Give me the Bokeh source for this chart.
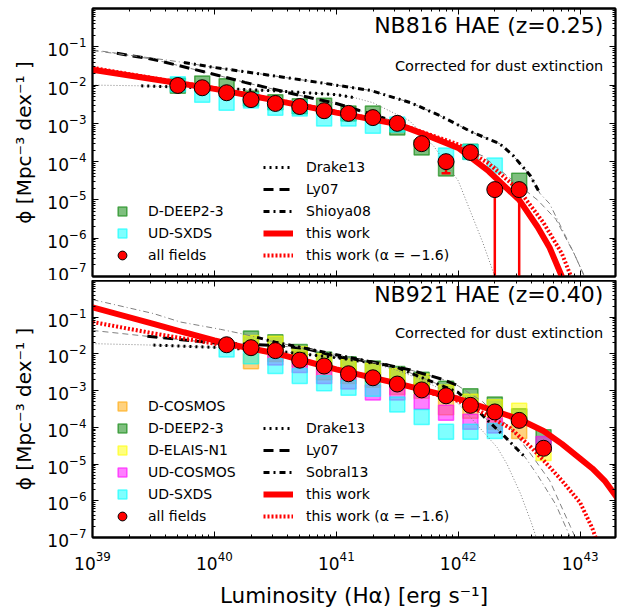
import math
from bokeh.plotting import figure
from bokeh.models import (LogAxis, FixedTicker, Legend, LegendItem, Label, Range1d)
from bokeh.layouts import column
from bokeh.embed import file_html
from bokeh.resources import INLINE

nan = float("nan")

# ---------------- data (log10 values) ----------------
x_tick_exps = [39, 40, 41, 42, 43]
y_tick_exps = [-7, -6, -5, -4, -3, -2, -1]

# NB816 (z=0.25) panel
L_top = [39.7, 39.9, 40.1, 40.3, 40.5, 40.7, 40.9, 41.1, 41.3, 41.5, 41.7, 41.9, 42.1, 42.3, 42.5]
all_top = [-2.01, -2.07, -2.20, -2.38, -2.48, -2.56, -2.67, -2.74, -2.85, -3.00, -3.53, -4.00, -3.76, -4.73, -4.73]
all_top_lo = [-2.05, -2.11, -2.24, -2.42, -2.52, -2.60, -2.71, -2.79, -2.90, -3.06, -3.62, -4.30, -3.85, -9.0, -9.0]
all_top_hi = [-1.97, -2.03, -2.16, -2.34, -2.44, -2.52, -2.63, -2.70, -2.80, -2.95, -3.45, -3.85, -3.68, -4.55, -4.55]
deep2_top = [-2.02, -1.96, -2.03, -2.35, -2.45, -2.55, -2.54, -2.74, -2.74, -3.11, -3.63, -4.18, -3.74, nan, -4.50]
sxds_top = [-1.98, -2.25, -2.46, -2.40, -2.59, -2.61, -2.87, -2.87, -3.06, -3.03, nan, -3.84, -3.75, -4.10, nan]

tw_top_x = [39.0, 39.5, 40.0, 40.5, 41.0, 41.5, 41.75, 42.0, 42.25, 42.5, 42.65, 42.75, 42.85, 42.9]
tw_top_y = [-1.60, -1.85, -2.10, -2.40, -2.72, -3.02, -3.32, -3.64, -4.25, -5.00, -5.70, -6.25, -7.00, -7.40]
twa_top_x = [39.0, 39.5, 40.0, 40.5, 41.0, 41.5, 42.0, 42.25, 42.5, 42.7, 42.85, 42.95]
twa_top_y = [-1.55, -1.82, -2.08, -2.38, -2.70, -3.00, -3.55, -4.05, -4.75, -5.60, -6.40, -7.20]

drake_top_x = [39.0, 39.4, 39.7, 40.0, 40.5, 41.0, 41.15, 41.3, 41.6, 41.8, 42.0, 42.1, 42.2, 42.3]
drake_top_y = [-2.00, -2.02, -2.05, -2.08, -2.15, -2.25, -2.33, -2.46, -2.93, -3.60, -4.50, -5.30, -6.10, -7.00]
drake_top_thick = (39.4, 41.15)
ly_top_x = [39.0, 39.2, 39.5, 39.95, 40.25, 40.7, 41.0, 41.4, 41.65, 41.9, 42.2, 42.45, 42.65, 42.8, 42.95, 43.05]
ly_top_y = [-1.08, -1.17, -1.33, -1.68, -1.93, -2.27, -2.48, -2.87, -3.14, -3.45, -3.85, -4.50, -5.00, -5.50, -6.40, -7.10]
ly_top_thick = (39.2, 41.4)
sh_top_x = [39.0, 39.5, 39.75, 40.0, 40.4, 40.75, 41.28, 41.61, 41.85, 42.12, 42.34, 42.45, 42.59, 42.67, 42.75, 42.85, 42.95, 43.05]
sh_top_y = [-1.10, -1.30, -1.41, -1.54, -1.72, -1.88, -2.14, -2.46, -2.80, -3.24, -3.53, -3.84, -4.36, -4.83, -5.10, -5.75, -6.40, -7.10]
sh_top_thick = (39.75, 42.67)

# NB921 (z=0.40) panel
L_bot = [40.1, 40.3, 40.5, 40.7, 40.9, 41.1, 41.3, 41.5, 41.7, 41.9, 42.1, 42.3, 42.5, 42.7]
all_bot = [-1.75, -1.83, -1.91, -2.17, -2.33, -2.54, -2.65, -2.82, -2.98, -3.14, -3.40, -3.58, -3.81, -4.57]
dcosmos_bot = [nan, -2.20, -2.00, -2.15, -2.50, -2.60, -2.70, -2.90, -3.00, -3.45, -3.55, -3.85, -4.10, nan]
deep2_bot = [nan, -1.58, -1.68, -1.95, -2.15, -2.28, -2.40, -2.55, -2.70, -2.95, -3.15, -3.38, -3.70, -4.27]
elais_bot = [nan, -1.70, -1.72, -2.00, -2.20, -2.35, -2.45, -2.60, -2.75, -3.05, -3.30, -3.45, -3.55, -4.70]
udcosmos_bot = [nan, nan, -2.10, -2.30, -2.60, -2.75, -3.05, -3.05, -3.30, -3.60, -3.85, -3.95, nan, -4.45]
sxds_bot = [-1.88, -2.06, -2.33, -2.60, -2.80, -2.92, -2.95, -3.38, -3.72, -4.12, -4.12, -4.10, nan, nan]

tw_bot_x = [39.0, 39.5, 39.75, 40.0, 40.25, 40.5, 40.75, 41.0, 41.5, 42.0, 42.5, 42.7, 42.85, 43.0, 43.1, 43.2, 43.3, 43.35]
tw_bot_y = [-0.73, -1.18, -1.41, -1.63, -1.82, -1.98, -2.20, -2.42, -2.80, -3.22, -3.78, -4.10, -4.45, -4.85, -5.12, -5.45, -5.90, -6.20]
twa_bot_x = [39.0, 39.5, 40.0, 40.5, 41.0, 41.5, 42.0, 42.2, 42.43, 42.6, 42.7, 42.85, 43.0, 43.1, 43.16]
twa_bot_y = [-1.13, -1.44, -1.72, -1.98, -2.42, -2.80, -3.28, -3.60, -4.03, -4.55, -4.90, -5.45, -6.05, -6.75, -7.30]

drake_bot_x = [39.0, 39.5, 40.0, 40.5, 41.0, 41.3, 41.5, 41.7, 41.85, 42.0, 42.16, 42.32, 42.4, 42.51, 42.6, 42.65]
drake_bot_y = [-1.72, -1.76, -1.82, -1.92, -2.10, -2.25, -2.45, -2.70, -2.95, -3.35, -3.95, -4.55, -5.00, -5.80, -6.60, -7.10]
drake_bot_thick = (39.5, 41.3)
ly_bot_x = [39.0, 39.45, 40.0, 40.5, 40.75, 41.0, 41.3, 41.6, 41.87, 42.0, 42.2, 42.45, 42.6, 42.75, 42.92, 43.0]
ly_bot_y = [-1.36, -1.52, -1.70, -1.77, -1.85, -2.07, -2.22, -2.43, -2.69, -2.87, -3.30, -4.10, -4.75, -5.45, -6.70, -7.30]
ly_bot_thick = (39.45, 42.0)
sob_bot_x = [39.0, 39.5, 39.72, 40.05, 40.21, 40.35, 40.5, 41.0, 41.5, 42.0, 42.13, 42.26, 42.39, 42.55, 42.65, 42.8, 42.92, 42.95]
sob_bot_y = [-0.52, -0.90, -1.13, -1.33, -1.44, -1.55, -1.68, -2.02, -2.37, -3.05, -3.45, -3.87, -4.28, -4.82, -5.30, -6.10, -7.00, -7.30]
sob_bot_thick = (40.35, 42.55)

# --------------------------------------------------------------------------
FONT = "DejaVu Sans"


def P(vals):
    return [10 ** v if v == v else nan for v in vals]


def thick(xs, ys, rng):
    lo, hi = rng
    sel = [(x, y) for x, y in zip(xs, ys) if lo <= x <= hi]
    return P([a for a, _ in sel]), P([b for _, b in sel])


def make_fig(height, top_border, bottom_border, show_x):
    p = figure(width=625, height=height, x_axis_type="log", y_axis_type="log",
               x_range=Range1d(1e39, 10 ** 43.29), y_range=Range1d(1e-7, 1.0),
               output_backend="svg", toolbar_location=None,
               min_border_left=92, min_border_right=10, min_border_top=top_border,
               min_border_bottom=bottom_border)
    p.grid.visible = False
    p.outline_line_color = "black"
    p.outline_line_width = 1.8
    p.outline_line_alpha = 1.0
    p.background_fill_color = "white"
    p.border_fill_color = "white"

    xt = FixedTicker(ticks=[10.0 ** e for e in x_tick_exps],
                     minor_ticks=[m * 10.0 ** e for e in range(39, 44) for m in range(2, 10)])
    yt = FixedTicker(ticks=[10.0 ** e for e in y_tick_exps],
                     minor_ticks=[m * 10.0 ** e for e in range(-7, 0) for m in range(2, 10)])

    def style(ax, labels):
        ax.major_tick_in = 6
        ax.major_tick_out = 0
        ax.minor_tick_in = 3
        ax.minor_tick_out = 0
        ax.major_tick_line_color = "black"
        ax.minor_tick_line_color = "black"
        ax.axis_line_color = "black"
        ax.axis_line_width = 1.8
        if labels:
            ax.major_label_text_font = FONT
            ax.major_label_text_font_size = "17px"
            ax.major_label_text_color = "black"
        else:
            ax.major_label_text_font_size = "1px"
            ax.major_label_text_alpha = 0
            ax.major_label_standoff = 0

    p.xaxis.ticker = xt
    p.yaxis.ticker = yt
    style(p.yaxis[0], True)
    p.yaxis.major_label_standoff = 6
    p.yaxis.axis_label = "ϕ [Mpc⁻³ dex⁻¹ ]"
    p.yaxis.axis_label_text_font = FONT
    p.yaxis.axis_label_text_font_size = "20px"
    p.yaxis.axis_label_text_font_style = "normal"
    p.yaxis.axis_label_text_color = "black"
    p.yaxis.axis_label_standoff = 8
    style(p.xaxis[0], show_x)
    if show_x:
        p.xaxis.major_label_standoff = 13
        p.xaxis.axis_label = "Luminosity (Hα) [erg s⁻¹]"
        p.xaxis.axis_label_text_font = FONT
        p.xaxis.axis_label_text_font_size = "21.5px"
        p.xaxis.axis_label_text_font_style = "normal"
        p.xaxis.axis_label_text_color = "black"
        p.xaxis.axis_label_standoff = 10

    ra = LogAxis(ticker=yt)
    style(ra, False)
    p.add_layout(ra, "right")
    ta = LogAxis(ticker=xt)
    style(ta, False)
    p.add_layout(ta, "above")
    return p


def curve(p, xs, ys, rng, dash_thin, dash_thick):
    p.line(P(xs), P(ys), line_color="#808080", line_width=1, line_dash=dash_thin)
    tx, ty = thick(xs, ys, rng)
    return p.line(tx, ty, line_color="black", line_width=3, line_dash=dash_thick)


DOT_THIN, DASH_THIN, DD_THIN = "1 2", "6 4", "6 3 1 3"
DOT, DASH, DD = "2 4", "10 6", "6 4 2 4"

SQ = dict(marker="square", size=15, fill_alpha=0.5, line_alpha=0.6, line_width=1.5)


def panel(p, L, sq_series, all_vals, curves, tw, twa, title, err=None):
    sq_items = []
    for name, vals, col in sq_series:
        r = p.scatter(P(L), P(vals), fill_color=col, line_color=col, **SQ)
        sq_items.append(LegendItem(label=name, renderers=[r]))
    line_items = []
    for name, xs, ys, rng, dthin, dthick in curves:
        r = curve(p, xs, ys, rng, dthin, dthick)
        line_items.append((name, r))
    r_tw = p.line(P(tw[0]), P(tw[1]), line_color="red", line_width=6)
    r_twa = p.line(P(twa[0]), P(twa[1]), line_color="red", line_width=4, line_dash="2 2")
    if err is not None:
        lo, hi = err
        p.segment(x0=P(L), y0=P(lo), x1=P(L), y1=P(hi), line_color="red", line_width=2.5)
        p.scatter(P(L), P(lo), marker="dash", size=9, line_color="red", line_width=2.5)
    r_all = p.scatter(P(L), P(all_vals), marker="circle", size=16, fill_color="red",
                      line_color="black", line_width=1)
    sq_items.append(LegendItem(label="all fields", renderers=[r_all]))

    items_r = [LegendItem(label=n, renderers=[r]) for n, r in line_items]
    items_r.append(LegendItem(label="this work", renderers=[r_tw]))
    items_r.append(LegendItem(label="this work (α = −1.6)", renderers=[r_twa]))

    common = dict(padding=0, margin=0, label_text_font=FONT, label_text_font_size="14px",
                  label_text_color="black", border_line_alpha=0, background_fill_alpha=0)
    lg1 = Legend(items=sq_items, location=(15, 10), spacing=0, glyph_width=30,
                 glyph_height=22, label_height=22, label_standoff=11, **common)
    p.add_layout(lg1, "center")
    lg2 = Legend(items=items_r, location=(171, 11), spacing=2, glyph_width=30,
                 glyph_height=20, label_height=20, label_standoff=13, **common)
    p.add_layout(lg2, "center")

    p.add_layout(Label(x=10 ** 43.19, y=10 ** title[1], text=title[0], text_align="right",
                       text_font=FONT, text_font_size="22px", text_color="black"))
    p.add_layout(Label(x=10 ** 43.19, y=10 ** title[2], text="Corrected for dust extinction",
                       text_align="right", text_font=FONT, text_font_size="14.5px",
                       text_color="black"))


p1 = make_fig(280, 8, 4, False)
panel(p1, L_top,
      [("D-DEEP2-3", deep2_top, "green"), ("UD-SXDS", sxds_top, "cyan")],
      all_top,
      [("Drake13", drake_top_x, drake_top_y, drake_top_thick, DOT_THIN, DOT),
       ("Ly07", ly_top_x, ly_top_y, ly_top_thick, DASH_THIN, DASH),
       ("Shioya08", sh_top_x, sh_top_y, sh_top_thick, DD_THIN, DD)],
      (tw_top_x, tw_top_y), (twa_top_x, twa_top_y),
      ("NB816 HAE (z=0.25)", -0.78, -1.70), err=(all_top_lo, all_top_hi))

p2 = make_fig(330, 0, 62, True)
panel(p2, L_bot,
      [("D-COSMOS", dcosmos_bot, "orange"), ("D-DEEP2-3", deep2_bot, "green"),
       ("D-ELAIS-N1", elais_bot, "yellow"), ("UD-COSMOS", udcosmos_bot, "magenta"),
       ("UD-SXDS", sxds_bot, "cyan")],
      all_bot,
      [("Drake13", drake_bot_x, drake_bot_y, drake_bot_thick, DOT_THIN, DOT),
       ("Ly07", ly_bot_x, ly_bot_y, ly_bot_thick, DASH_THIN, DASH),
       ("Sobral13", sob_bot_x, sob_bot_y, sob_bot_thick, DD_THIN, DD)],
      (tw_bot_x, tw_bot_y), (twa_bot_x, twa_bot_y),
      ("NB921 HAE (z=0.40)", -0.73, -1.65))

layout = column(p1, p2, spacing=0)
open("out.html", "w").write(file_html(layout, INLINE))
